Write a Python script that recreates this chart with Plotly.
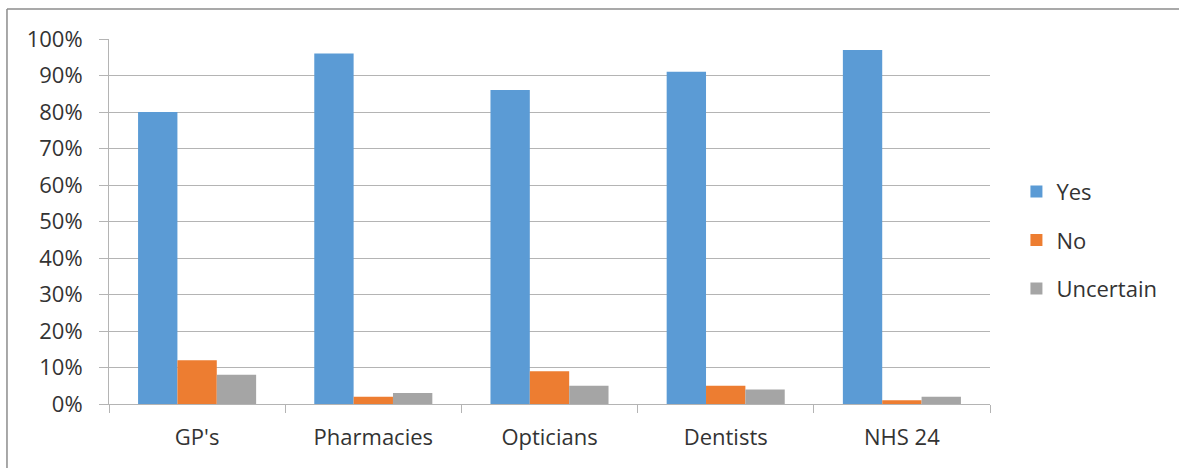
import plotly.graph_objects as go

# Survey responses per service (percent of respondents)
services = ["GP's", "Pharmacies", "Opticians", "Dentists", "NHS 24"]
yes_pct = [80, 96, 86, 91, 97]
no_pct = [12, 2, 9, 5, 1]
uncertain_pct = [8, 3, 5, 4, 2]

series = [
    ("Yes", yes_pct, "#5B9BD5"),
    ("No", no_pct, "#ED7D31"),
    ("Uncertain", uncertain_pct, "#A5A5A5"),
]

font_family = "Open Sans"
text_color = "#333333"
grid_color = "#B4B4B4"

fig = go.Figure()
for name, values, color in series:
    fig.add_trace(go.Bar(
        x=services,
        y=[v / 100 for v in values],
        name=name,
        marker=dict(color=color, line=dict(width=0)),
        legendgroup=name,
    ))

fig.update_layout(
    width=1179,
    height=468,
    margin=dict(l=109, r=189, t=39, b=64),
    paper_bgcolor="white",
    plot_bgcolor="white",
    barmode="group",
    bargap=0.33,
    bargroupgap=0,
    font=dict(family=font_family, size=22, color=text_color),
    legend=dict(
        x=1.03, xanchor="left",
        y=0.449, yanchor="middle",
        font=dict(size=22, color=text_color),
        tracegroupgap=17,
        bgcolor="rgba(0,0,0,0)",
    ),
    xaxis=dict(
        showline=True, linecolor=grid_color, linewidth=1,
        ticks="outside", tickson="boundaries", ticklen=8,
        tickcolor=grid_color, tickwidth=1,
        showgrid=False,
        tickfont=dict(size=22, color=text_color),
        ticklabelstandoff=14,
    ),
    yaxis=dict(
        range=[0, 1.0], tickformat=".0%", dtick=0.1,
        showline=True, linecolor=grid_color, linewidth=1,
        showgrid=True, gridcolor=grid_color, gridwidth=1,
        ticks="outside", ticklen=9, tickcolor=grid_color, tickwidth=1,
        tickfont=dict(size=22, color=text_color),
        ticklabelstandoff=12,
        zeroline=False,
    ),
)

# Chart-area frame (top and left edges)
frame = dict(type="line", xref="paper", yref="paper",
             line=dict(color="#8C8C8C", width=1.5))
fig.add_shape(x0=-0.1158, x1=1.4, y0=1.0822, y1=1.0822, **frame)
fig.add_shape(x0=-0.1158, x1=-0.1158, y0=1.0822, y1=-0.4, **frame)

fig.write_html("out.html")
